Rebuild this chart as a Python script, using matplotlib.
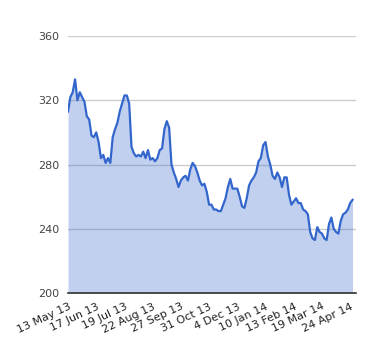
import matplotlib
matplotlib.use("Agg")
import matplotlib.pyplot as plt
import numpy as np

# closing price, sampled every 2 trading days (13 May 13 .. early May 14)
prices = [
    313, 322, 325, 333, 320, 325, 322, 319, 310, 308,
    298, 297, 300, 294, 284, 286, 281, 284, 281, 297,
    302, 306, 313, 318, 323, 323, 318, 291, 287, 285,
    286, 285, 288, 284, 289, 283, 284, 282, 284, 289,
    290, 302, 307, 303, 280, 275, 271, 266, 270, 272,
    273, 270, 277, 281, 279, 275, 270, 267, 268, 263,
    255, 255, 252, 252, 251, 251, 255, 259, 266, 271,
    265, 265, 265, 260, 254, 253, 259, 267, 270, 272,
    275, 282, 284, 292, 294, 285, 280, 273, 271, 275,
    272, 266, 272, 272, 261, 255, 257, 259, 256, 256,
    252, 251, 249, 238, 234, 233, 241, 238, 237, 234,
    233, 243, 247, 240, 238, 237, 245, 249, 250, 252,
    256, 258,
]
tick_labels = ["13 May 13", "17 Jun 13", "19 Jul 13", "22 Aug 13", "27 Sep 13",
               "31 Oct 13", "4 Dec 13", "10 Jan 14", "13 Feb 14", "19 Mar 14",
               "24 Apr 14"]
y_ticks = [200, 240, 280, 320, 360]

x = np.arange(len(prices))

fig = plt.figure(figsize=(3.8, 3.6), dpi=100)
ax = fig.add_axes([0.179, 0.186, 0.758, 0.714])

ax.fill_between(x, 200, prices, color="#3366cc", alpha=0.3, linewidth=0, zorder=2)
ax.plot(x, prices, color="#3366cc", linewidth=1.6, zorder=3)

ax.set_ylim(200, 360)
ax.set_xlim(0, 122.5)
ax.set_yticks(y_ticks)
ax.set_yticklabels([str(v) for v in y_ticks], fontsize=8, color="#444444")
ax.set_xticks(np.arange(len(tick_labels)) * 12)
ax.set_xticklabels(tick_labels, rotation=25, ha="right", rotation_mode="anchor",
                   fontsize=8, color="#222222")

ax.grid(axis="y", color="#cccccc", linewidth=1, zorder=1)
ax.tick_params(length=0, pad=6)
for side in ["top", "right", "left"]:
    ax.spines[side].set_visible(False)
ax.spines["bottom"].set_color("#333333")
ax.spines["bottom"].set_linewidth(1.2)
ax.spines["bottom"].set_zorder(4)

fig.savefig("out.png", dpi=100)
